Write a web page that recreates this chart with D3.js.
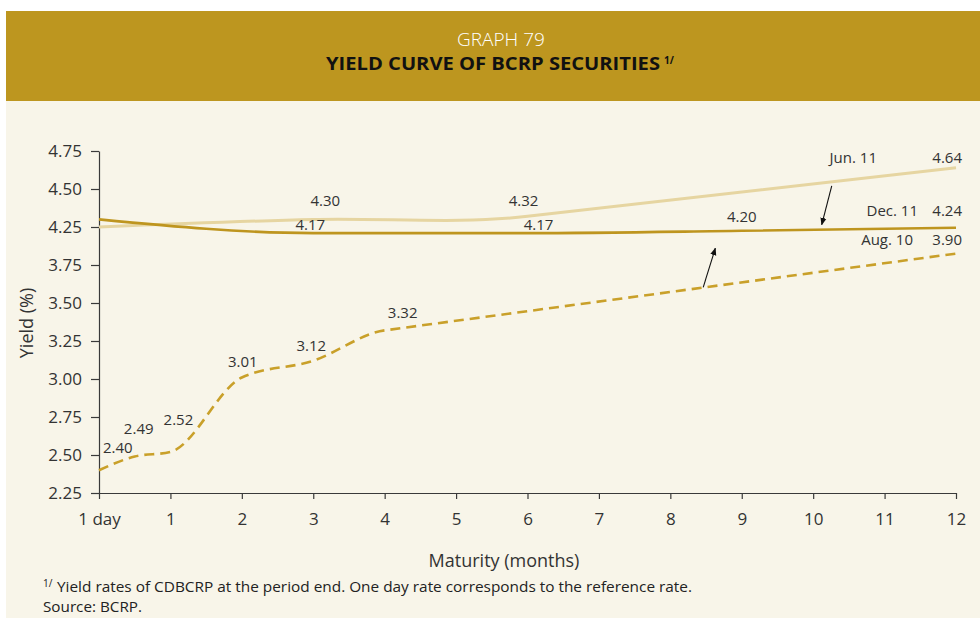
<!DOCTYPE html>
<html>
<head>
<meta charset="utf-8">
<script src="https://cdn.jsdelivr.net/npm/d3@7"></script>
<style>
  body { margin: 0; background: #fff; }
  svg { display: block; }
  text { font-family: "Open Sans", "Noto Sans", sans-serif; }
</style>
</head>
<body>
<svg id="chart" width="980" height="618"></svg>
<script>
// Maturities on the x axis (0 = one day rate) and their tick labels
const maturities = [0, 1, 2, 3, 4, 5, 6, 7, 8, 9, 10, 11, 12];
const maturityLabels = ["1 day", "1", "2", "3", "4", "5", "6", "7", "8", "9", "10", "11", "12"];

// Yield ticks as printed on the axis (the scale skips 4.00)
const yieldTicks = [2.25, 2.50, 2.75, 3.00, 3.25, 3.50, 3.75, 4.25, 4.50, 4.75];

// Yield curves, %
const aug10Maturity = [0, 0.5, 1, 2, 3, 4, 12];
const aug10Yield    = [2.40, 2.49, 2.52, 3.01, 3.12, 3.32, 3.90];
const jun11Maturity = [0, 3, 6, 12];
const jun11Yield    = [4.25, 4.30, 4.32, 4.64];
const dec11Maturity = [0, 3, 6, 9, 12];
const dec11Yield    = [4.30, 4.17, 4.17, 4.20, 4.24];

const seriesNames = ["Aug. 10", "Jun. 11", "Dec. 11"];

// ---------------------------------------------------------------
const svg = d3.select("#chart");
const W = 980, H = 618;

const plot = { left: 99, right: 956, top: 151, bottom: 493 };
const step = (plot.bottom - plot.top) / (yieldTicks.length - 1);

const x = d3.scaleLinear().domain([0, 12]).range([plot.left, plot.right]);
// piecewise scale: evenly spaced ticks, with the 3.75 -> 4.25 gap compressed into one step
const y = d3.scaleLinear()
  .domain([2.25, 3.75, 4.25, 4.75])
  .range([plot.bottom, plot.bottom - 6 * step, plot.bottom - 7 * step, plot.top]);

// background panels
svg.append("rect").attr("x", 0).attr("y", 0).attr("width", W).attr("height", H).attr("fill", "#ffffff");
svg.append("rect").attr("x", 6).attr("y", 101).attr("width", W - 6).attr("height", H - 101).attr("fill", "#F8F5E9");
svg.append("rect").attr("x", 6).attr("y", 11).attr("width", W - 6).attr("height", 90).attr("fill", "#BD961F");

// header
svg.append("text").attr("x", 501).attr("y", 46).attr("text-anchor", "middle")
  .attr("fill", "#ffffff").attr("font-size", 19).attr("font-weight", 300).text("GRAPH 79");
svg.append("text").attr("x", 326).attr("y", 70)
  .attr("fill", "#111").attr("font-size", 18).attr("font-weight", 700)
  .attr("textLength", 334).attr("lengthAdjust", "spacingAndGlyphs")
  .text("YIELD CURVE OF BCRP SECURITIES");
svg.append("text").attr("x", 664).attr("y", 64)
  .attr("fill", "#111").attr("font-size", 10).attr("font-weight", 700).text("1/");

// axes
const axisColor = "#3a3a3a";
const yAxis = svg.append("g").attr("transform", `translate(${plot.left},0)`)
  .call(d3.axisLeft(y).tickValues(yieldTicks).tickFormat(d3.format(".2f"))
    .tickSize(8).tickSizeOuter(0).tickPadding(9));
const xAxis = svg.append("g").attr("transform", `translate(0,${plot.bottom})`)
  .call(d3.axisBottom(x).tickValues(maturities).tickFormat((d, i) => maturityLabels[i])
    .tickSize(6).tickSizeOuter(0).tickPadding(14));
[yAxis, xAxis].forEach(g => {
  g.selectAll("path, line").attr("stroke", axisColor).attr("stroke-width", 1.2);
  g.selectAll("text").attr("fill", "#333").attr("font-size", 17)
    .style("font-family", '"Open Sans", "Noto Sans", sans-serif');
});

svg.append("text").attr("transform", "translate(33,323) rotate(-90)")
  .attr("text-anchor", "middle").attr("fill", "#333").attr("font-size", 18).text("Yield (%)");
svg.append("text").attr("x", 504).attr("y", 567).attr("text-anchor", "middle")
  .attr("fill", "#333").attr("font-size", 18).text("Maturity (months)");

// curves: monotone cubic through the short end; optionally a straight last stretch
// that the cubic part joins tangentially
function curvePath(pts, straightTail) {
  const P = pts.map(p => [x(p[0]), y(p[1])]);
  const n = P.length;
  const sign = v => (v > 0) - (v < 0);
  const sec = [];
  for (let i = 0; i < n - 1; i++) sec.push((P[i + 1][1] - P[i][1]) / (P[i + 1][0] - P[i][0]));
  const t = new Array(n).fill(0);
  for (let i = 1; i < n - 1; i++) {
    const h0 = P[i][0] - P[i - 1][0], h1 = P[i + 1][0] - P[i][0];
    const s0 = sec[i - 1], s1 = sec[i];
    const p = (s0 * h1 + s1 * h0) / (h0 + h1);
    t[i] = (sign(s0) + sign(s1)) * Math.min(Math.abs(s0), Math.abs(s1), 0.5 * Math.abs(p)) || 0;
  }
  t[0] = (3 * sec[0] - t[1]) / 2;
  t[n - 1] = (3 * sec[n - 2] - t[n - 2]) / 2;
  const cubicEnd = straightTail ? n - 2 : n - 1;
  if (straightTail) t[n - 2] = sec[n - 2];
  const path = d3.path();
  path.moveTo(P[0][0], P[0][1]);
  for (let i = 0; i < cubicEnd; i++) {
    const h = (P[i + 1][0] - P[i][0]) / 3;
    path.bezierCurveTo(P[i][0] + h, P[i][1] + t[i] * h, P[i + 1][0] - h, P[i + 1][1] - t[i + 1] * h, P[i + 1][0], P[i + 1][1]);
  }
  if (straightTail) path.lineTo(P[n - 1][0], P[n - 1][1]);
  return path.toString();
}

const series = [
  { name: seriesNames[0], pts: d3.zip(aug10Maturity, aug10Yield), color: "#C9A02A", width: 2.6, dash: "10,6", tail: true,
    labels: [[4, -17, "start"], [4, -23, "middle"], [8, -27, "middle"], [1, -10, "middle"], [-2, -10, "middle"], [18, -12, "middle"], [6, -9, "end"]],
    nameDx: -43 },
  { name: seriesNames[1], pts: d3.zip(jun11Maturity, jun11Yield), color: "#E6D5A1", width: 3, dash: null, tail: true,
    labels: [null, [12, -13, "middle"], [-4, -10, "middle"], [6, -5, "end"]],
    nameDx: -79 },
  { name: seriesNames[2], pts: d3.zip(dec11Maturity, dec11Yield), color: "#BE951F", width: 2.6, dash: null, tail: false,
    labels: [null, [-3, -3, "middle"], [11, -3, "middle"], [0, -8.5, "middle"], [6, -11.5, "end"]],
    nameDx: -38 }
];

series.forEach(s => {
  svg.append("path").attr("d", curvePath(s.pts, s.tail))
    .attr("fill", "none").attr("stroke", s.color).attr("stroke-width", s.width)
    .attr("stroke-dasharray", s.dash);
});

series.forEach(s => {
  s.pts.forEach((p, i) => {
    const lab = s.labels[i];
    if (!lab) return;
    svg.append("text").attr("x", x(p[0]) + lab[0]).attr("y", y(p[1]) + lab[1])
      .attr("text-anchor", lab[2]).attr("fill", "#333").attr("font-size", 15)
      .text(d3.format(".2f")(p[1]));
  });
  const last = s.pts[s.pts.length - 1];
  const lastLab = s.labels[s.labels.length - 1];
  svg.append("text").attr("x", x(last[0]) + s.nameDx).attr("y", y(last[1]) + lastLab[1])
    .attr("text-anchor", "end").attr("fill", "#333").attr("font-size", 15).text(s.name);
});

// shift arrows between the curves
svg.append("defs").append("marker").attr("id", "head")
  .attr("viewBox", "0 0 10 10").attr("refX", 9).attr("refY", 5)
  .attr("markerWidth", 7).attr("markerHeight", 7).attr("orient", "auto")
  .append("path").attr("d", "M0,1 L10,5 L0,9 Z").attr("fill", "#111");
const arrows = [
  [[10.26, 4.52], [10.12, 4.265]],
  [[8.46, 3.603], [8.63, 3.97]]
];
arrows.forEach(a => {
  svg.append("line")
    .attr("x1", x(a[0][0])).attr("y1", y(a[0][1]))
    .attr("x2", x(a[1][0])).attr("y2", y(a[1][1]))
    .attr("stroke", "#111").attr("stroke-width", 1.1).attr("marker-end", "url(#head)");
});

// footnote
svg.append("text").attr("x", 43).attr("y", 587).attr("fill", "#222").attr("font-size", 10).text("1/");
svg.append("text").attr("x", 57).attr("y", 592).attr("fill", "#222").attr("font-size", 14)
  .attr("textLength", 635).attr("lengthAdjust", "spacingAndGlyphs")
  .text("Yield rates of CDBCRP at the period end. One day rate corresponds to the reference rate.");
svg.append("text").attr("x", 43).attr("y", 612).attr("fill", "#222").attr("font-size", 14)
  .attr("textLength", 99).attr("lengthAdjust", "spacingAndGlyphs")
  .text("Source: BCRP.");
</script>
</body>
</html>
